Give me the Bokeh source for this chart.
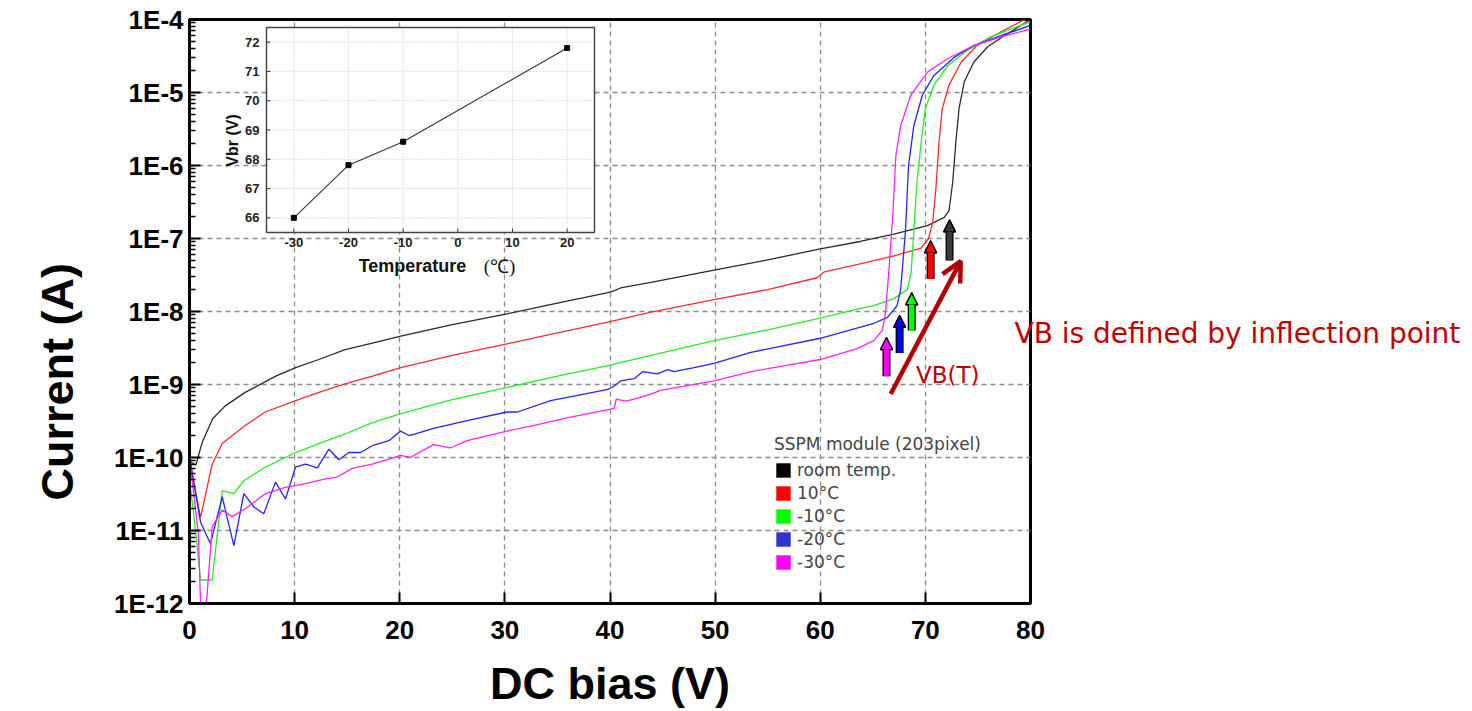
from math import pi
from bokeh.plotting import figure
from bokeh.models import (Range1d, LinearScale, FixedTicker, CustomJSTickFormatter, LogAxis,
                          Legend, LegendItem, Arrow, NormalHead, OpenHead, Label, Title)
from bokeh.embed import file_html
from bokeh.resources import INLINE
from bokeh.core.properties import value

# ---------------- data ----------------
series_names = ["room temp.", "10\u00b0C", "-10\u00b0C", "-20\u00b0C", "-30\u00b0C"]
line_colors = ["#2a2a2a", "#ff2a2a", "#22ee22", "#2424ff", "#ff22ff"]
legend_colors = ["#000000", "#ff0000", "#00ff00", "#3333cc", "#ff00ff"]

room_v = [0, 0.6, 1.2, 2.2, 3.4, 5.3, 8.2, 10.1, 12.3, 14.8, 17.4, 20.1, 25, 30.2, 35, 39.7, 40.3,
          41.0, 43.9, 49.9, 55, 60, 63.8, 67.0, 70.2, 71.8, 72.25, 72.6, 72.9, 73.2, 73.7, 74.6,
          75.9, 77.5, 80]
room_i = [8.9e-11, 7.9e-11, 1.6e-10, 3.4e-10, 5.1e-10, 7.8e-10, 1.3e-9, 1.7e-9, 2.2e-9, 3.0e-9,
          3.7e-9, 4.6e-9, 6.6e-9, 9.3e-9, 1.3e-8, 1.8e-8, 1.9e-8, 2.1e-8, 2.5e-8, 3.7e-8, 5.1e-8,
          7.2e-8, 9.1e-8, 1.15e-7, 1.5e-7, 1.95e-7, 2.4e-7, 5.9e-7, 2.1e-6, 6.0e-6, 1.4e-5, 2.6e-5,
          4.2e-5, 6.0e-5, 1.0e-4]

p10_v = [0, 0.5, 1.05, 2.16, 3.1, 5.3, 7.2, 10.1, 12.3, 14.8, 17.4, 20.1, 25, 30.2, 35, 39.7,
         43.9, 49.9, 55, 59.7, 60.4, 63.8, 67.0, 69.6, 70.3, 70.7, 71.0, 71.3, 71.6, 72.25, 73.4,
         74.9, 77.2, 80]
p10_i = [1.0e-10, 4.0e-11, 1.5e-11, 8.1e-11, 1.55e-10, 2.75e-10, 4.2e-10, 6.0e-10, 7.8e-10,
         1.02e-9, 1.3e-9, 1.7e-9, 2.5e-9, 3.6e-9, 5.1e-9, 7.1e-9, 9.8e-9, 1.45e-8, 2.0e-8, 2.9e-8,
         3.5e-8, 4.5e-8, 5.8e-8, 7.4e-8, 1.0e-7, 1.66e-7, 4.8e-7, 2.1e-6, 6.0e-6, 1.26e-5, 2.6e-5,
         4.4e-5, 6.8e-5, 1.1e-4]

m10_v = [0, 0.5, 1.05, 2.16, 3.11, 4.22, 5.17, 7.23, 10.1, 12.3, 14.8, 17.4, 20.1, 25, 30.2, 35,
         39.7, 43.9, 49.9, 55, 60, 63.8, 65.1, 67.0, 68.3, 68.65, 68.9, 69.2, 69.6, 70.0, 70.8,
         72.1, 74.0, 76.2, 78.1, 80]
m10_i = [5.0e-11, 1.26e-11, 2.1e-12, 2.1e-12, 3.5e-11, 3.2e-11, 4.8e-11, 7.4e-11, 1.17e-10,
         1.55e-10, 2.1e-10, 3.0e-10, 4.0e-10, 6.2e-10, 9.1e-10, 1.3e-9, 1.8e-9, 2.5e-9, 4.0e-9,
         5.6e-9, 8.1e-9, 1.1e-8, 1.2e-8, 1.5e-8, 2.0e-8, 3.5e-8, 1.23e-7, 5.9e-7, 2.1e-6, 6.0e-6,
         1.26e-5, 2.3e-5, 3.8e-5, 5.8e-5, 7.4e-5, 9.3e-5]

m20_v = [0, 1.05, 2.0, 3.11, 4.22, 5.17, 6.12, 7.07, 8.18, 9.13, 10.09, 11.04, 12.15, 13.26,
         14.21, 15.16, 16.27, 17.38, 18.97, 20.08, 20.87, 21.5, 23.2, 26.4, 30.2, 31.2, 34.35,
         39.7, 40.2, 41.0, 42.3, 43.1, 44.5, 45.5, 46.1, 47.0, 48.0, 49.9, 53.4, 60.0, 65.1, 66.4,
         67.3, 67.65, 68.1, 68.4, 68.9, 69.7, 70.8, 72.7, 74.6, 77.2, 80]
m20_i = [1.0e-10, 1.3e-11, 6.6e-12, 2.9e-11, 6.2e-12, 3.2e-11, 2.1e-11, 1.7e-11, 4.6e-11, 2.7e-11,
         7.4e-11, 8.1e-11, 7.2e-11, 1.3e-10, 9.3e-11, 1.17e-10, 1.17e-10, 1.45e-10, 1.7e-10,
         2.3e-10, 2.0e-10, 2.1e-10, 2.5e-10, 3.2e-10, 4.2e-10, 4.2e-10, 6.0e-10, 8.5e-10, 9.1e-10,
         1.12e-9, 1.2e-9, 1.5e-9, 1.4e-9, 1.6e-9, 1.5e-9, 1.6e-9, 1.7e-9, 1.95e-9, 2.75e-9,
         4.3e-9, 6.9e-9, 8.3e-9, 1.2e-8, 2.0e-8, 1.23e-7, 1.0e-6, 3.5e-6, 9.1e-6, 1.7e-5, 3.0e-5,
         4.4e-5, 6.0e-5, 8.3e-5]

m30_v = [0, 0.84, 1.1, 1.5, 2.16, 3.11, 4.06, 5.33, 7.23, 9.13, 11.04, 12.94, 14.05, 15.48, 17.38,
         18.97, 20.08, 21.0, 23.2, 24.8, 26.4, 30.2, 32.8, 35.9, 39.7, 40.4, 40.6, 41.5, 42.3,
         43.9, 44.8, 49.9, 53.4, 60.0, 63.5, 65.1, 65.9, 66.2, 66.5, 66.9, 67.2, 67.65, 68.6, 70.2,
         72.1, 74.6, 77.2, 80]
m30_i = [1.0e-10, 9.1e-12, 6.3e-13, 6.3e-13, 1.12e-11, 1.9e-11, 1.55e-11, 2.0e-11, 3.2e-11,
         3.9e-11, 4.4e-11, 5.1e-11, 5.4e-11, 7.1e-11, 8.1e-11, 9.5e-11, 1.07e-10, 1.0e-10,
         1.5e-10, 1.35e-10, 1.7e-10, 2.3e-10, 2.75e-10, 3.5e-10, 4.5e-10, 4.7e-10, 6.3e-10,
         5.9e-10, 6.3e-10, 7.4e-10, 8.3e-10, 1.12e-9, 1.5e-9, 2.2e-9, 3.1e-9, 4.0e-9, 5.5e-9,
         9.5e-9, 3.2e-8, 2.1e-7, 1.4e-6, 3.5e-6, 9.1e-6, 1.9e-5, 2.9e-5, 4.4e-5, 5.8e-5, 7.4e-5]

series_v = [room_v, p10_v, m10_v, m20_v, m30_v]
series_i = [room_i, p10_i, m10_i, m20_i, m30_i]

x_ticks = [0, 10, 20, 30, 40, 50, 60, 70, 80]
y_ticks = [1e-12, 1e-11, 1e-10, 1e-9, 1e-8, 1e-7, 1e-6, 1e-5, 1e-4]
y_tick_labels = ["1E-12", "1E-11", "1E-10", "1E-9", "1E-8", "1E-7", "1E-6", "1E-5", "1E-4"]
y_minor = [m * d for d in y_ticks[:-1] for m in range(2, 10)]

# inflection-point arrows (bias V, current tail, current tip)
arrow_v = [66.3, 67.55, 68.7, 70.5, 72.3]
arrow_i_tail = [1.3e-9, 2.7e-9, 5.5e-9, 2.8e-8, 5.0e-8]
arrow_i_tip = [4.4e-9, 8.9e-9, 1.8e-8, 9.3e-8, 1.8e-7]
arrow_colors = ["#ff00ff", "#0000ff", "#00ff00", "#ff0000", "#3a3a3a"]
trend_v = [66.7, 73.36]
trend_i = [7.4e-10, 4.9e-8]

note_text = "VB is defined by inflection point"
note_level = 5.0e-9

# inset: breakdown voltage vs temperature
inset_temp = [-30, -20, -10, 20]
inset_vbr = [66.0, 67.8, 68.6, 71.8]
inset_x_ticks = [-30, -20, -10, 0, 10, 20]
inset_x_labels = ["-30", "-20", "-10", "0", "10", "20"]
inset_y_ticks = [66, 67, 68, 69, 70, 71, 72]
inset_y_labels = ["66", "67", "68", "69", "70", "71", "72"]

# ---------------- layout constants (pixels) ----------------
W, H = 1472, 711
FL, FR, FT, FB = 189, 1030, 19, 603
IL, IR, IT, IB = 266, 594, 27, 232
ix0, ix1, iy0, iy1 = -35.0, 25.0, 65.5, 72.5

DARK_RED = "#c00000"

p = figure(width=W, height=H, x_range=Range1d(0, 80), y_range=Range1d(1e-12, 1e-4),
           y_axis_type="log", output_backend="svg", toolbar_location=None,
           min_border_left=FL, min_border_right=W - FR, min_border_top=FT,
           min_border_bottom=H - FB)
p.background_fill_color = "white"
p.border_fill_color = "white"
p.outline_line_color = "black"
p.outline_line_width = 3

# axes
p.xaxis.ticker = FixedTicker(ticks=x_ticks, minor_ticks=[])
p.yaxis.ticker = FixedTicker(ticks=y_ticks, minor_ticks=y_minor)
p.yaxis.formatter = CustomJSTickFormatter(args=dict(vals=y_ticks, labs=y_tick_labels), code="""
const k = Math.round(Math.log10(tick));
for (let i = 0; i < vals.length; i++) {
  if (Math.round(Math.log10(vals[i])) == k) return labs[i];
}
return "";
""")
for ax in (p.xaxis[0], p.yaxis[0]):
    ax.axis_line_width = 3
    ax.axis_line_color = "black"
    ax.major_tick_in = 11
    ax.major_tick_out = 0
    ax.major_tick_line_width = 2
    ax.minor_tick_in = 6
    ax.minor_tick_out = 0
    ax.minor_tick_line_width = 1.5
    ax.major_label_text_font = "Liberation Sans"
    ax.major_label_text_font_style = "bold"
    ax.major_label_text_font_size = "26px"
    ax.major_label_text_color = "black"
    ax.axis_label_text_font = "Liberation Sans"
    ax.axis_label_text_font_style = "bold"
    ax.axis_label_text_font_size = "45px"
    ax.axis_label_text_color = "black"
p.xaxis.axis_label = "DC bias (V)"
p.xaxis.major_label_standoff = 17
p.xaxis.axis_label_standoff = 16
p.yaxis.major_label_standoff = 6

p.add_layout(Title(text="Current (A)", align="left", offset=103, standoff=57,
                   text_font="Liberation Sans", text_font_style="bold",
                   text_font_size="45px", text_color="black"), "left")

# note text to the right of the frame, carried by a label-only right axis
rax = LogAxis(ticker=FixedTicker(ticks=[note_level], minor_ticks=[]),
              formatter=CustomJSTickFormatter(args=dict(t=note_text), code="return t;"))
rax.axis_line_color = None
rax.major_tick_line_color = None
rax.minor_tick_line_color = None
rax.major_label_standoff = -22
rax.major_label_text_font = "DejaVu Sans"
rax.major_label_text_font_size = "28px"
rax.major_label_text_color = DARK_RED
p.add_layout(rax, "right")

# grid
for g in (p.xgrid[0], p.ygrid[0]):
    g.grid_line_color = "#8c8c8c"
    g.grid_line_dash = "5 4"
    g.grid_line_width = 1.3

# curves
for vs, cur, col in zip(series_v, series_i, line_colors):
    p.line(vs, cur, line_color=col, line_width=1.3)

# inset via extra ranges
sx = (IR - IL) / (ix1 - ix0)
sy = (IB - IT) / (iy1 - iy0)
p.extra_x_ranges = {"ix": Range1d(ix0 - (IL - FL) / sx, ix1 + (FR - IR) / sx)}
p.extra_y_ranges = {"iy": Range1d(iy0 - (FB - IB) / sy, iy1 + (IT - FT) / sy)}
p.extra_x_scales = {"ix": LinearScale()}
p.extra_y_scales = {"iy": LinearScale()}
kw = dict(x_range_name="ix", y_range_name="iy")

p.quad(left=[ix0], right=[ix1], bottom=[iy0], top=[iy1], fill_color="white",
       line_color=None, **kw)
p.segment(x0=inset_x_ticks, x1=inset_x_ticks, y0=[iy0] * len(inset_x_ticks),
          y1=[iy1] * len(inset_x_ticks), line_color="#c8c8c8", line_dash="1 2", line_width=1, **kw)
p.segment(x0=[ix0] * len(inset_y_ticks), x1=[ix1] * len(inset_y_ticks), y0=inset_y_ticks,
          y1=inset_y_ticks, line_color="#c8c8c8", line_dash="1 2", line_width=1, **kw)
p.segment(x0=inset_x_ticks, x1=inset_x_ticks, y0=[iy0] * len(inset_x_ticks),
          y1=[iy0 + 4 / sy] * len(inset_x_ticks), line_color="#333333", line_width=1, **kw)
p.segment(x0=[ix0] * len(inset_y_ticks), x1=[ix0 + 4 / sx] * len(inset_y_ticks),
          y0=inset_y_ticks, y1=inset_y_ticks, line_color="#333333", line_width=1, **kw)
p.quad(left=[ix0], right=[ix1], bottom=[iy0], top=[iy1], fill_color=None,
       line_color="#444444", line_width=1.5, **kw)
p.line(inset_temp, inset_vbr, line_color="#333333", line_width=1.1, **kw)
p.scatter(inset_temp, inset_vbr, marker="square", size=5, fill_color="black",
          line_color="black", **kw)
p.text(x=inset_x_ticks, y=[iy0] * len(inset_x_ticks), text=inset_x_labels, y_offset=5,
       text_align="center", text_baseline="top", text_font=value("Liberation Sans"),
       text_font_style="bold", text_font_size="13px", text_color="#222222", **kw)
p.text(x=[ix0] * len(inset_y_ticks), y=inset_y_ticks, text=inset_y_labels, x_offset=-7,
       text_align="right", text_baseline="middle", text_font=value("Liberation Sans"),
       text_font_style="bold", text_font_size="13px", text_color="#222222", **kw)
p.text(x=[ix0], y=[iy0 + (IB - 140) / sy], text=["Vbr (V)"], x_offset=-34, angle=pi / 2,
       text_align="center", text_baseline="middle", text_font=value("Liberation Sans"),
       text_font_style="bold", text_font_size="16px", text_color="#111111", **kw)
p.text(x=[ix0 + (412 - IL) / sx], y=[iy0], text=["Temperature"], y_offset=33,
       text_align="center", text_baseline="middle", text_font=value("Liberation Sans"),
       text_font_style="bold", text_font_size="18px", text_color="#111111", **kw)
p.text(x=[ix0 + (499 - IL) / sx], y=[iy0], text=["(\u2103)"], y_offset=34,
       text_align="center", text_baseline="middle", text_font=value("Liberation Serif"),
       text_font_size="19px", text_color="#111111", **kw)

# legend (square swatches from unplotted placeholder quads)
nan = float("nan")
items = []
for name, col in zip(series_names, legend_colors):
    r = p.quad(left=[nan], right=[nan], top=[nan], bottom=[nan], fill_color=col, line_color=None)
    items.append(LegendItem(label=name, renderers=[r]))
legend = Legend(items=items, title="SSPM module (203pixel)", location=(585, 31),
                padding=0, margin=0, border_line_color=None, background_fill_alpha=0,
                glyph_width=18, glyph_height=18, label_height=18, spacing=3,
                label_standoff=5, title_standoff=6,
                label_text_font="DejaVu Sans", label_text_font_size="17px",
                title_text_font="DejaVu Sans", title_text_font_size="17px",
                title_text_font_style="normal")
p.add_layout(legend)

# inflection-point arrows
for v, t0, t1, col in zip(arrow_v, arrow_i_tail, arrow_i_tip, arrow_colors):
    p.add_layout(Arrow(x_start=v, y_start=t0, x_end=v, y_end=t1, line_width=8,
                       line_color="black", line_cap="butt",
                       end=NormalHead(size=12, fill_color=col, line_color="black", line_width=1.2)))
    p.add_layout(Arrow(x_start=v, y_start=t0, x_end=v, y_end=t1, line_width=5.5,
                       line_color=col, line_cap="butt",
                       end=NormalHead(size=12, fill_color=col, line_color="black", line_width=1.2)))
p.add_layout(Arrow(x_start=trend_v[0], y_start=trend_i[0], x_end=trend_v[1], y_end=trend_i[1],
                   line_width=4.5, line_color="#b00000",
                   end=OpenHead(size=20, line_color="#b00000", line_width=4.5)))

p.add_layout(Label(x=69.1, y=1.33e-9, text="VB(T)", text_baseline="middle",
                   text_font="DejaVu Sans", text_font_size="23px", text_color=DARK_RED))

open("out.html", "w").write(file_html(p, INLINE))
